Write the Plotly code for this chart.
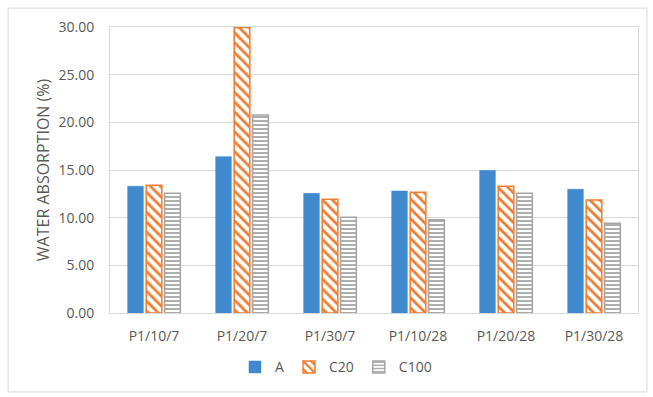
import plotly.graph_objects as go

categories = ["P1/10/7", "P1/20/7", "P1/30/7", "P1/10/28", "P1/20/28", "P1/30/28"]
series_a = [13.30, 16.40, 12.55, 12.80, 14.95, 12.98]
series_c20 = [13.40, 29.95, 11.93, 12.66, 13.30, 11.86]
series_c100 = [12.55, 20.78, 10.04, 9.78, 12.56, 9.41]
y_ticks = [0, 5, 10, 15, 20, 25, 30]

BLUE = "#4189CF"
ORANGE = "#ED7D31"
GRAY = "#A5A5A5"
TEXT = "#595959"
GRID = "#D9D9D9"

fig = go.Figure()
fig.add_trace(go.Bar(
    name="A", x=categories, y=series_a,
    marker=dict(color=BLUE, line=dict(color=BLUE, width=0.5)),
))
fig.add_trace(go.Bar(
    name="C20", x=categories, y=series_c20,
    marker=dict(
        color="white",
        line=dict(color=ORANGE, width=1.5),
        pattern=dict(shape="\\", fgcolor=ORANGE, bgcolor="white",
                     size=7, solidity=0.4, fillmode="replace"),
    ),
))
fig.add_trace(go.Bar(
    name="C100", x=categories, y=series_c100,
    marker=dict(
        color="white",
        line=dict(color=GRAY, width=1.5),
        pattern=dict(shape="-", fgcolor=GRAY, bgcolor="white",
                     size=4, solidity=0.45, fillmode="replace"),
    ),
))

# outer chart frame
fig.add_shape(type="rect", xref="paper", yref="paper",
              x0=-0.193, x1=1.017, y0=-0.276, y1=1.066,
              line=dict(color=GRID, width=1), layer="below")

fig.update_layout(
    width=653, height=397,
    margin=dict(l=110, r=15, t=27, b=84),
    paper_bgcolor="white", plot_bgcolor="white",
    barmode="group", bargap=0.37, bargroupgap=0.15,
    font=dict(family="Open Sans, Liberation Sans, sans-serif", color=TEXT, size=14),
    showlegend=True,
    legend=dict(orientation="h", x=0.428, xanchor="center", y=-0.19, yanchor="middle",
                font=dict(size=14, color=TEXT), itemwidth=30,
                traceorder="normal"),
    xaxis=dict(
        showline=True, linecolor=GRID, mirror=True,
        showgrid=False, ticks="", tickfont=dict(size=14, color=TEXT),
        ticklabelstandoff=10, fixedrange=True,
    ),
    yaxis=dict(
        range=[0, 30], tickvals=y_ticks, tickformat=".2f",
        showline=True, linecolor=GRID, mirror=True,
        showgrid=True, gridcolor=GRID, gridwidth=1,
        ticks="", ticklabelstandoff=12, zeroline=False,
        tickfont=dict(size=14, color=TEXT),
        title=dict(text="WATER ABSORPTION (%)", font=dict(size=16, color=TEXT), standoff=4),
    ),
)

fig.write_html("out.html")
